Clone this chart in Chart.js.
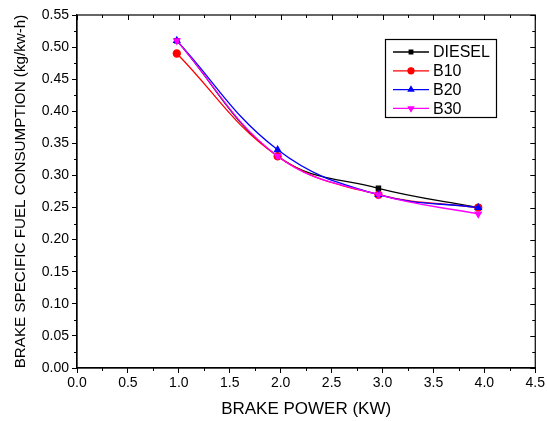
<!DOCTYPE html>
<html>
<head>
<meta charset="utf-8">
<script src="https://cdn.jsdelivr.net/npm/chart.js@4.4.0/dist/chart.umd.min.js"></script>
<style>
  html, body { margin: 0; padding: 0; background: #fff; }
  #wrap { width: 547px; height: 421px; position: relative; }
</style>
</head>
<body>
<div id="wrap"><canvas id="bsfc"></canvas></div>
<script>
// brake power (KW) at each load step
const power = [0.98, 1.97, 2.96, 3.94];

const diesel = [0.51, 0.33, 0.28, 0.25];
const b10 = [0.49, 0.33, 0.27, 0.25];
const b20 = [0.51, 0.34, 0.27, 0.25];
const b30 = [0.51, 0.33, 0.27, 0.24];

const xTicks = [0.0, 0.5, 1.0, 1.5, 2.0, 2.5, 3.0, 3.5, 4.0, 4.5];
const yTicks = [0.00, 0.05, 0.10, 0.15, 0.20, 0.25, 0.30, 0.35, 0.40, 0.45, 0.50, 0.55];

const FONT = "'Liberation Sans', Arial, sans-serif";

function pts(ys) {
  return ys.map((y, i) => ({ x: power[i], y: y }));
}

function series(label, ys, color, style, rot, order) {
  return {
    label: label,
    data: pts(ys),
    order: order,
    borderColor: color,
    backgroundColor: color,
    borderWidth: 1.3,
    pointStyle: style,
    rotation: rot || 0,
    pointRadius: style === 'rect' ? 3 : 3.5,
    pointHoverRadius: 3.5,
    tension: 0.4
  };
}

// frame, minor ticks and inner ticks on top/right
const framePlugin = {
  id: 'frame',
  afterDraw(chart) {
    const c = chart.ctx, a = chart.chartArea;
    const xs = chart.scales.x, ys = chart.scales.y;
    c.save();
    c.strokeStyle = '#000';
    c.lineWidth = 1.2;
    c.strokeRect(a.left, a.top, a.right - a.left, a.bottom - a.top);
    c.lineWidth = 1;
    c.beginPath();
    for (let v = 0; v <= 4.5001; v += 0.25) {
      const px = Math.round(xs.getPixelForValue(v)) + 0.5;
      const major = Math.abs(v * 2 - Math.round(v * 2)) < 1e-6;
      const len = major ? 5 : 3;
      if (!major) { c.moveTo(px, a.bottom); c.lineTo(px, a.bottom + len); }
      c.moveTo(px, a.top); c.lineTo(px, a.top + len);
    }
    for (let i = 0; i <= 22; i++) {
      const v = i * 0.025;
      const py = Math.round(ys.getPixelForValue(v)) + 0.5;
      const major = i % 2 === 0;
      const len = major ? 5 : 3;
      if (!major) { c.moveTo(a.left, py); c.lineTo(a.left - len, py); }
      c.moveTo(a.right, py); c.lineTo(a.right - len, py);
    }
    c.stroke();
    c.restore();
  }
};

// boxed legend with line + marker samples
const legendPlugin = {
  id: 'boxLegend',
  afterDraw(chart) {
    const c = chart.ctx;
    const bx = 385, by = 39, bw = 111, bh = 78;
    c.save();
    c.strokeStyle = '#000';
    c.lineWidth = 1.2;
    c.strokeRect(bx + 0.5, by + 0.5, bw, bh);
    c.font = '16px ' + FONT;
    c.textBaseline = 'middle';
    chart.data.datasets.forEach((ds, i) => {
      const y = by + 13 + i * 18.8;
      c.strokeStyle = ds.borderColor;
      c.lineWidth = 1.3;
      c.beginPath();
      c.moveTo(bx + 8, y); c.lineTo(bx + 44, y);
      c.stroke();
      Chart.helpers.drawPoint(c, {
        pointStyle: ds.pointStyle, rotation: ds.rotation, radius: ds.pointRadius - 0.5, borderWidth: 1
      }, bx + 26, y);
      c.fillStyle = ds.borderColor;
      c.fill();
      c.fillStyle = '#000';
      c.fillText(ds.label, bx + 48, y + 1);
    });
    c.restore();
  }
};

new Chart(document.getElementById('bsfc'), {
  type: 'line',
  data: {
    datasets: [
      series('DIESEL', diesel, '#000000', 'rect', 0, 4),
      series('B10', b10, '#ff0000', 'circle', 0, 3),
      series('B20', b20, '#0000ff', 'triangle', 0, 2),
      series('B30', b30, '#ff00ff', 'triangle', 180, 1)
    ]
  },
  options: {
    responsive: true,
    maintainAspectRatio: false,
    animation: false,
    layout: { padding: { top: 15, right: 11, left: 0, bottom: 0 } },
    plugins: {
      legend: { display: false },
      tooltip: { enabled: false }
    },
    scales: {
      x: {
        type: 'linear',
        min: 0, max: 4.5,
        afterBuildTicks: s => { s.ticks = xTicks.map(v => ({ value: v })); },
        afterFit: s => { s.height = 53; },
        ticks: {
          color: '#000', padding: 2,
          font: { family: FONT, size: 14 },
          callback: v => v.toFixed(1)
        },
        grid: { drawOnChartArea: false, tickLength: 5, color: '#000', tickColor: '#000' },
        border: { color: '#000', width: 1.2 },
        title: {
          display: true, text: 'BRAKE POWER (KW)', color: '#000',
          font: { family: FONT, size: 17 }, padding: { top: 4, bottom: 1 }
        }
      },
      y: {
        type: 'linear',
        min: 0, max: 0.55,
        afterBuildTicks: s => { s.ticks = yTicks.map(v => ({ value: v })); },
        afterFit: s => { s.width = 77; },
        ticks: {
          color: '#000', padding: 3,
          font: { family: FONT, size: 14 },
          callback: v => v.toFixed(2)
        },
        grid: { drawOnChartArea: false, tickLength: 5, color: '#000', tickColor: '#000' },
        border: { color: '#000', width: 1.2 },
        title: {
          display: true, text: 'BRAKE SPECIFIC FUEL CONSUMPTION (kg/kw-h)', color: '#000',
          font: { family: FONT, size: 15.2 }, padding: { top: 12, bottom: 2 }
        }
      }
    }
  },
  plugins: [framePlugin, legendPlugin]
});
</script>
</body>
</html>
